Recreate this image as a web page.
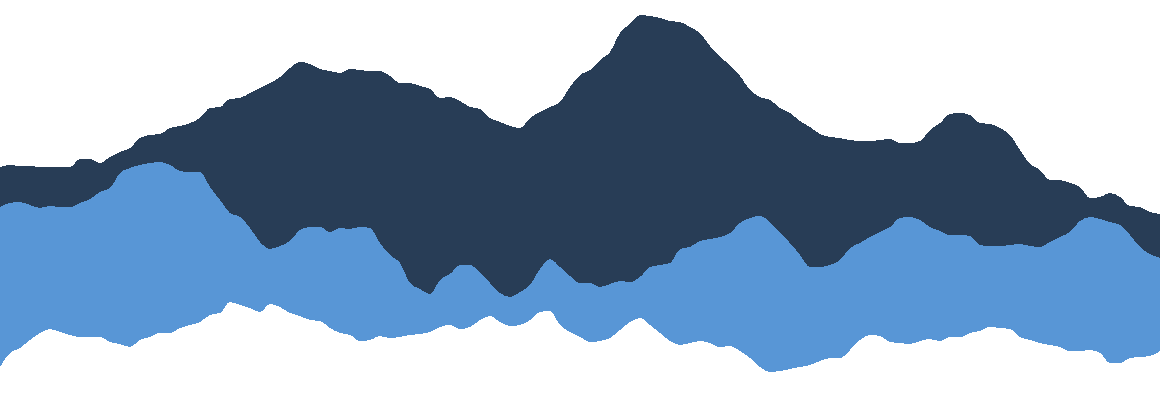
<!DOCTYPE html>
<html>
<head>
<meta charset="utf-8">
<script src="https://cdn.jsdelivr.net/npm/d3@7"></script>
<style>
  body { margin: 0; background: #fff; }
  svg { display: block; }
</style>
</head>
<body>
<div id="chart"></div>
<script>
// layer values, sampled left to right (117 steps)
const baseValues = [
  34, 48, 53, 61, 68, 72, 69, 66, 64, 64, 64, 59, 57, 54, 61, 64, 68, 68, 73, 76,
  79, 86, 88, 99, 96, 93, 89, 97, 94, 88, 85, 81, 80, 73, 68, 66, 60, 61, 65, 63,
  64, 66, 67, 69, 74, 76, 72, 74, 81, 85, 79, 75, 76, 81, 89, 90, 76, 69, 64, 59,
  60, 63, 71, 79, 83, 76, 68, 60, 56, 58, 60, 58, 54, 55, 50, 43, 34, 29, 30, 32,
  34, 36, 40, 43, 43, 51, 61, 66, 65, 59, 58, 57, 60, 62, 60, 64, 64, 68, 70, 74,
  73, 72, 64, 61, 58, 56, 54, 50, 50, 51, 48, 38, 38, 43, 44, 45, 50
];
const lightValues = [
  160, 150, 146, 135, 125, 123, 125, 128, 134, 138, 145, 154, 171, 179, 175, 174, 171, 168, 157, 153,
  150, 128, 113, 89, 88, 80, 70, 55, 61, 72, 86, 93, 94, 96, 105, 106, 114, 112, 93, 83,
  74, 52, 45, 38, 47, 51, 64, 62, 47, 33, 29, 29, 33, 35, 43, 52, 58, 56, 54, 59,
  54, 54, 49, 40, 41, 58, 68, 78, 96, 96, 100, 104, 110, 113, 128, 140, 151, 150, 138, 126,
  112, 98, 94, 93, 98, 102, 97, 98, 104, 115, 125, 127, 121, 112, 110, 102, 102, 97, 86, 81,
  82, 84, 93, 94, 96, 103, 110, 119, 130, 133, 134, 141, 138, 123, 110, 102, 93
];
const darkValues = [
  40, 38, 36, 39, 41, 39, 40, 40, 44, 40, 29, 31, 21, 20, 27, 28, 28, 37, 45, 49,
  54, 79, 93, 114, 119, 135, 154, 166, 169, 173, 168, 163, 158, 161, 155, 160, 157, 157, 172, 179,
  180, 200, 203, 205, 182, 177, 164, 158, 164, 165, 171, 171, 164, 167, 157, 152, 165, 189, 208, 213,
  227, 232, 248, 258, 262, 251, 247, 242, 227, 220, 208, 193, 180, 168, 147, 128, 119, 122, 125, 130,
  134, 140, 133, 128, 122, 108, 102, 96, 92, 88, 75, 74, 79, 97, 108, 121, 122, 121, 122, 122,
  118, 110, 94, 82, 77, 62, 57, 49, 34, 19, 22, 29, 28, 29, 40, 42, 44
];
const keys = ["base", "light", "dark"];
const colors = { base: "none", light: "#5896d6", dark: "#283d56" };

const width = 1160;
const height = 401;

const table = baseValues.map((d, i) => ({
  base: d,
  light: lightValues[i],
  dark: darkValues[i],
}));

const series = d3.stack().keys(keys)(table);

const xScale = d3
  .scaleLinear()
  .domain([0, table.length - 1])
  .range([0, width]);

const yScale = d3
  .scaleLinear()
  .domain([0, 401])
  .range([height, 0]);

const area = d3
  .area()
  .curve(d3.curveMonotoneX)
  .x((d, i) => xScale(i))
  .y0((d) => yScale(d[0]))
  .y1((d) => yScale(d[1]));

const svg = d3
  .select("#chart")
  .append("svg")
  .attr("width", width)
  .attr("height", height)
  .attr("viewBox", "0 0 " + width + " " + height);

svg
  .append("g")
  .selectAll("path")
  .data(series.filter((s) => s.key !== "base"))
  .enter()
  .append("path")
  .attr("fill", (s) => colors[s.key])
  .attr("shape-rendering", "crispEdges")
  .attr("d", area);
</script>
</body>
</html>
